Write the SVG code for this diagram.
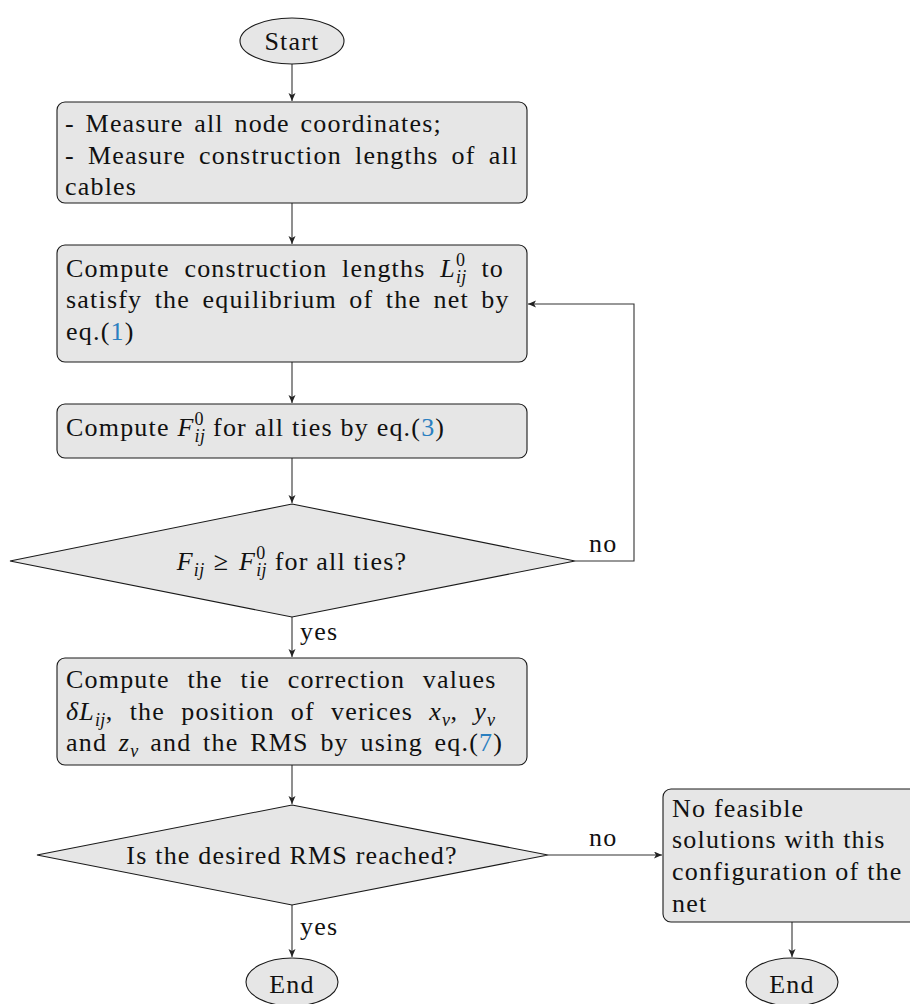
<svg xmlns="http://www.w3.org/2000/svg" width="910" height="1004" viewBox="0 0 910 1004">
<style>
.n{fill:#e6e6e6;stroke:#1a1a1a;stroke-width:1.1}
.t{font-family:"Liberation Serif","Times New Roman",serif;font-size:26px;letter-spacing:1.2px;fill:#111}
.c{text-anchor:middle}
.i{font-style:italic}
.s{font-size:18px;letter-spacing:0.4px}
.l{fill:#2a7fc0}
.e{fill:none;stroke:#333;stroke-width:1.1}
</style>
<defs>
<marker id="ah" markerWidth="9" markerHeight="8" refX="8" refY="3.5" orient="auto" markerUnits="userSpaceOnUse">
<path d="M0,0 L8,3.5 L0,7 L2,3.5 z" fill="#222"/>
</marker>
</defs>
<g id="connectors">
<line class="e" x1="292" y1="64" x2="292" y2="101" marker-end="url(#ah)"/>
<line class="e" x1="292" y1="203" x2="292" y2="244" marker-end="url(#ah)"/>
<line class="e" x1="292" y1="362" x2="292" y2="403" marker-end="url(#ah)"/>
<line class="e" x1="292" y1="458" x2="292" y2="503" marker-end="url(#ah)"/>
<polyline class="e" points="575,561 634,561 634,304 528,304" marker-end="url(#ah)"/>
<line class="e" x1="292" y1="617" x2="292" y2="657" marker-end="url(#ah)"/>
<line class="e" x1="292" y1="765" x2="292" y2="804" marker-end="url(#ah)"/>
<line class="e" x1="548" y1="855" x2="662" y2="855" marker-end="url(#ah)"/>
<line class="e" x1="292" y1="905" x2="292" y2="957" marker-end="url(#ah)"/>
<line class="e" x1="792" y1="922" x2="792" y2="957" marker-end="url(#ah)"/>
<text class="t" x="589" y="552">no</text>
<text class="t" x="300" y="640">yes</text>
<text class="t" x="589" y="846">no</text>
<text class="t" x="300" y="935">yes</text>
</g>
<g id="start">
<ellipse class="n" cx="292" cy="41" rx="52" ry="23"/>
<text class="t c" x="292" y="50">Start</text>
</g>
<g id="measure">
<rect class="n" x="57" y="102" width="470" height="101" rx="8"/>
<text class="t" x="65" y="132" word-spacing="3">- Measure all node coordinates;</text>
<text class="t" x="65" y="164" word-spacing="5.4">- Measure construction lengths of all</text>
<text class="t" x="65" y="195">cables</text>
</g>
<g id="compute-lengths">
<rect class="n" x="57" y="245" width="470" height="117" rx="8"/>
<text class="t" x="66" y="277" word-spacing="7">Compute construction lengths <tspan class="i">L</tspan><tspan class="s" dy="-11">0</tspan><tspan class="s i" dx="-9.4" dy="17">ij</tspan><tspan dy="-6"> to</tspan></text>
<text class="t" x="66" y="308" word-spacing="4.7">satisfy the equilibrium of the net by</text>
<text class="t" x="66" y="340">eq.(<tspan class="l">1</tspan>)</text>
</g>
<g id="compute-forces">
<rect class="n" x="57" y="404" width="470" height="54" rx="8"/>
<text class="t" x="66" y="436">Compute <tspan class="i">F</tspan><tspan class="s" dy="-11">0</tspan><tspan class="s i" dx="-9.4" dy="17">ij</tspan><tspan dy="-6"> for all ties by eq.(</tspan><tspan class="l">3</tspan>)</text>
</g>
<g id="check-forces">
<polygon class="n" points="292,504 575,561 292,617 10,561"/>
<text class="t c" x="292" y="570"><tspan class="i">F</tspan><tspan class="s i" dy="6">ij</tspan><tspan dy="-6" dx="9">≥</tspan><tspan class="i" dx="10">F</tspan><tspan class="s" dy="-11">0</tspan><tspan class="s i" dx="-9.4" dy="17">ij</tspan><tspan dy="-6"> for all ties?</tspan></text>
</g>
<g id="compute-corrections">
<rect class="n" x="57" y="658" width="470" height="107" rx="8"/>
<text class="t" x="66" y="688" word-spacing="10">Compute the tie correction values</text>
<text class="t" x="66" y="720" word-spacing="8.5"><tspan class="i">δL</tspan><tspan class="s i" dy="6">ij</tspan><tspan dy="-6">, the position of verices </tspan><tspan class="i">x</tspan><tspan class="s i" dy="6">v</tspan><tspan dy="-6">, </tspan><tspan class="i">y</tspan><tspan class="s i" dy="6">v</tspan></text>
<text class="t" x="66" y="751" word-spacing="4">and <tspan class="i">z</tspan><tspan class="s i" dy="6">v</tspan><tspan dy="-6"> and the RMS by using eq.(</tspan><tspan class="l">7</tspan>)</text>
</g>
<g id="check-rms">
<polygon class="n" points="292,805 548,855 292,905 37,855"/>
<text class="t c" x="292" y="864">Is the desired RMS reached?</text>
</g>
<g id="end-ok">
<ellipse class="n" cx="292" cy="982" rx="46" ry="24"/>
<text class="t c" x="292" y="993">End</text>
</g>
<g id="no-solution">
<rect class="n" x="663" y="789" width="258" height="133" rx="8"/>
<text class="t" x="672" y="817">No feasible</text>
<text class="t" x="672" y="848">solutions with this</text>
<text class="t" x="672" y="880">configuration of the</text>
<text class="t" x="672" y="912">net</text>
</g>
<g id="end-fail">
<ellipse class="n" cx="792" cy="982" rx="46" ry="24"/>
<text class="t c" x="792" y="993">End</text>
</g>
</svg>
